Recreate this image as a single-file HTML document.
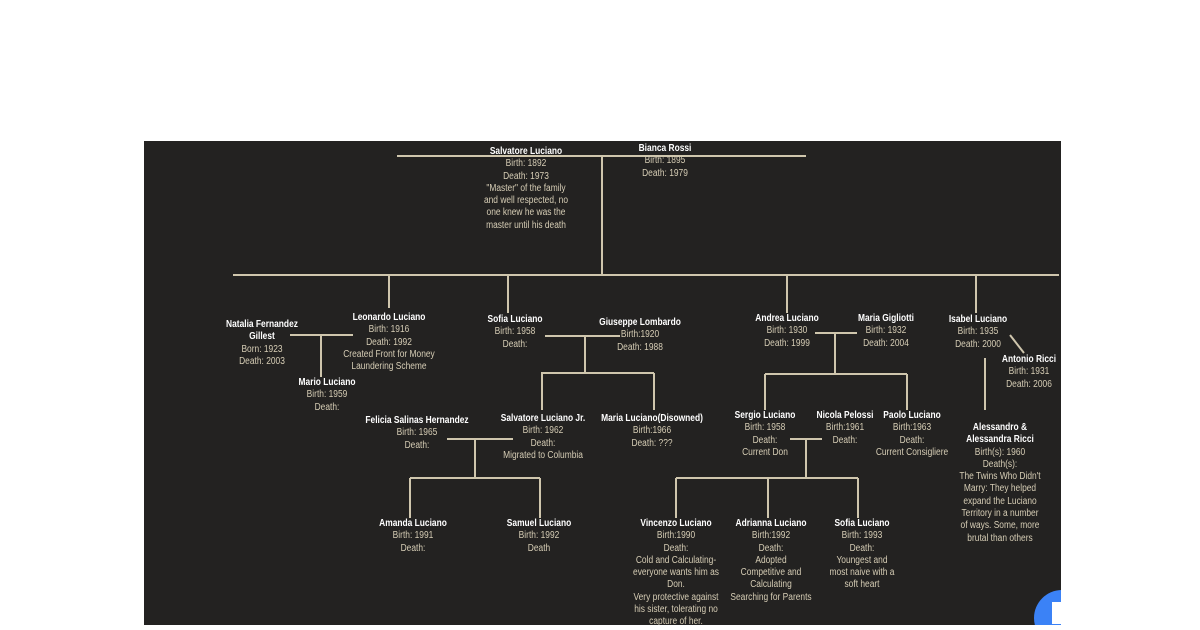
<!DOCTYPE html>
<html><head><meta charset="utf-8">
<style>
html,body{margin:0;padding:0;background:#fff;width:1200px;height:630px;overflow:hidden;position:relative}
#panel{position:absolute;left:144px;top:141px;width:917px;height:484px;background:#232221;overflow:hidden}
svg{position:absolute;left:0;top:0}
.t{position:absolute;transform:translateX(-50%) scaleX(0.84);text-align:center;font-family:"Liberation Sans",sans-serif;font-size:10px;line-height:12.3px;color:#d6cdb5;white-space:nowrap}
.t b{color:#fff;font-weight:bold}
</style></head><body>
<div id="panel"></div>
<svg width="1200" height="630" viewBox="0 0 1200 630">
<g stroke="#cfc6ad" stroke-width="2" fill="none">
<line x1="397" y1="156" x2="806" y2="156"/>
<line x1="602" y1="156" x2="602" y2="275"/>
<line x1="233" y1="275" x2="1059" y2="275"/>
<line x1="389" y1="275" x2="389" y2="308"/>
<line x1="508" y1="275" x2="508" y2="313"/>
<line x1="787" y1="275" x2="787" y2="313"/>
<line x1="976" y1="275" x2="976" y2="313"/>
<line x1="290" y1="335" x2="353" y2="335"/>
<line x1="321" y1="335" x2="321" y2="377"/>
<line x1="545" y1="336" x2="620" y2="336"/>
<line x1="585" y1="336" x2="585" y2="373"/>
<line x1="541" y1="373" x2="654" y2="373"/>
<line x1="542" y1="373" x2="542" y2="410"/>
<line x1="654" y1="373" x2="654" y2="410"/>
<line x1="815" y1="333" x2="857" y2="333"/>
<line x1="835" y1="333" x2="835" y2="374"/>
<line x1="765" y1="374" x2="907" y2="374"/>
<line x1="765" y1="374" x2="765" y2="410"/>
<line x1="907" y1="374" x2="907" y2="410"/>
<line x1="985" y1="358" x2="985" y2="410"/>
<line x1="1010" y1="335" x2="1024" y2="353"/>
<line x1="447" y1="439" x2="513" y2="439"/>
<line x1="475" y1="439" x2="475" y2="478"/>
<line x1="410" y1="478" x2="540" y2="478"/>
<line x1="410" y1="478" x2="410" y2="518"/>
<line x1="540" y1="478" x2="540" y2="518"/>
<line x1="790" y1="439" x2="822" y2="439"/>
<line x1="806" y1="439" x2="806" y2="478"/>
<line x1="676" y1="478" x2="858" y2="478"/>
<line x1="676" y1="478" x2="676" y2="518"/>
<line x1="768" y1="478" x2="768" y2="518"/>
<line x1="858" y1="478" x2="858" y2="518"/>
</g>
<clipPath id="c"><rect x="144" y="141" width="917" height="484"/></clipPath>
<g clip-path="url(#c)">
<circle cx="1062" cy="618" r="28" fill="#3b82f6"/>
<rect x="1052" y="602" width="20" height="22" fill="#fff"/>
</g>
</svg>
<div class="t" style="left:526px;top:146px"><b>Salvatore Luciano</b><br>Birth: 1892<br>Death: 1973<br>"Master" of the family<br>and well respected, no<br>one knew he was the<br>master until his death</div>
<div class="t" style="left:665px;top:143px"><b>Bianca Rossi</b><br>Birth: 1895<br>Death: 1979</div>
<div class="t" style="left:262px;top:319px"><b>Natalia Fernandez<br>Gillest</b><br>Born: 1923<br>Death: 2003</div>
<div class="t" style="left:389px;top:312px"><b>Leonardo Luciano</b><br>Birth: 1916<br>Death: 1992<br>Created Front for Money<br>Laundering Scheme</div>
<div class="t" style="left:327px;top:377px"><b>Mario Luciano</b><br>Birth: 1959<br>Death:</div>
<div class="t" style="left:515px;top:314px"><b>Sofia Luciano</b><br>Birth: 1958<br>Death:</div>
<div class="t" style="left:640px;top:317px"><b>Giuseppe Lombardo</b><br>Birth:1920<br>Death: 1988</div>
<div class="t" style="left:787px;top:313px"><b>Andrea Luciano</b><br>Birth: 1930<br>Death: 1999</div>
<div class="t" style="left:886px;top:313px"><b>Maria Gigliotti</b><br>Birth: 1932<br>Death: 2004</div>
<div class="t" style="left:978px;top:314px"><b>Isabel Luciano</b><br>Birth: 1935<br>Death: 2000</div>
<div class="t" style="left:1029px;top:354px"><b>Antonio Ricci</b><br>Birth: 1931<br>Death: 2006</div>
<div class="t" style="left:417px;top:415px"><b>Felicia Salinas Hernandez</b><br>Birth: 1965<br>Death:</div>
<div class="t" style="left:543px;top:413px"><b>Salvatore Luciano Jr.</b><br>Birth: 1962<br>Death:<br>Migrated to Columbia</div>
<div class="t" style="left:652px;top:413px"><b>Maria Luciano(Disowned)</b><br>Birth:1966<br>Death: ???</div>
<div class="t" style="left:765px;top:410px"><b>Sergio Luciano</b><br>Birth: 1958<br>Death:<br>Current Don</div>
<div class="t" style="left:845px;top:410px"><b>Nicola Pelossi</b><br>Birth:1961<br>Death:</div>
<div class="t" style="left:912px;top:410px"><b>Paolo Luciano</b><br>Birth:1963<br>Death:<br>Current Consigliere</div>
<div class="t" style="left:1000px;top:422px"><b>Alessandro &amp;<br>Alessandra Ricci</b><br>Birth(s): 1960<br>Death(s):<br>The Twins Who Didn't<br>Marry: They helped<br>expand the Luciano<br>Territory in a number<br>of ways. Some, more<br>brutal than others</div>
<div class="t" style="left:413px;top:518px"><b>Amanda Luciano</b><br>Birth: 1991<br>Death:</div>
<div class="t" style="left:539px;top:518px"><b>Samuel Luciano</b><br>Birth: 1992<br>Death</div>
<div class="t" style="left:676px;top:518px"><b>Vincenzo Luciano</b><br>Birth:1990<br>Death:<br>Cold and Calculating-<br>everyone wants him as<br>Don.<br>Very protective against<br>his sister, tolerating no<br>capture of her.</div>
<div class="t" style="left:771px;top:518px"><b>Adrianna Luciano</b><br>Birth:1992<br>Death:<br>Adopted<br>Competitive and<br>Calculating<br>Searching for Parents</div>
<div class="t" style="left:862px;top:518px"><b>Sofia Luciano</b><br>Birth: 1993<br>Death:<br>Youngest and<br>most naive with a<br>soft heart</div>
<div style="position:absolute;left:0;top:625px;width:1200px;height:5px;background:#fff"></div>
</body></html>
